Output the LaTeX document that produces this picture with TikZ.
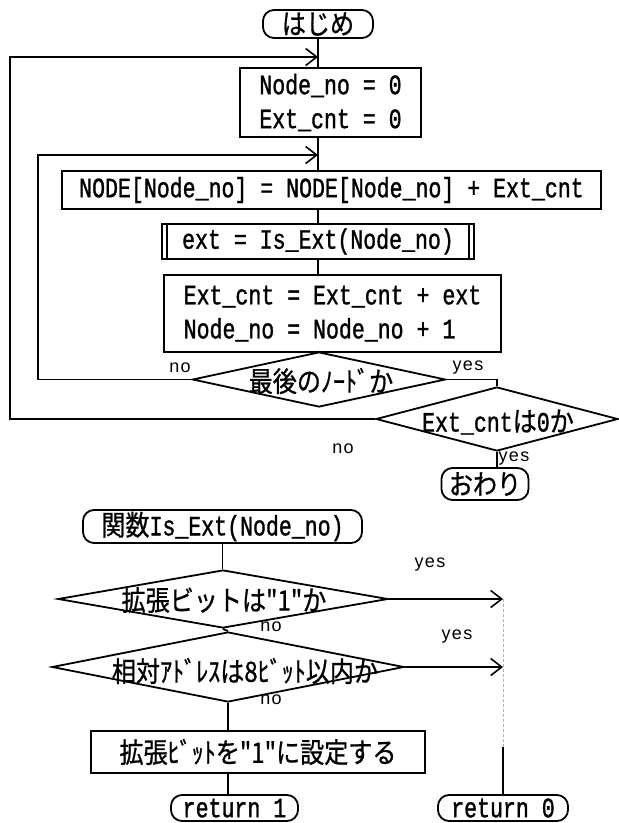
\documentclass[tikz,border=0pt]{standalone}
\usepackage{fontspec}
\usetikzlibrary{shapes.geometric,arrows.meta}
\newfontfamily\mono[FakeStretch=0.77,FakeBold=1.2]{Liberation Mono}
\newfontfamily\jp[FakeStretch=0.86,FakeBold=0.8]{Noto Sans CJK JP}
\newfontfamily\labfont[LetterSpace=8]{Liberation Sans}
\begin{document}
\begin{tikzpicture}[x=1pt,y=-1pt,line width=1.8pt,
  every node/.style={inner sep=0pt,font=\mono\fontsize{28}{34}\selectfont},
  term/.style={draw,rounded corners=11pt},
  procbox/.style={draw,rectangle},
  decide/.style={draw,diamond},
  arr/.style={-{Straight Barb[length=11pt,width=17pt,line width=1.6pt]}},
  lab/.style={font=\labfont\fontsize{18}{20}\selectfont},
  faint/.style={line width=0.8pt,gray!60,dash pattern=on 3pt off 2pt}]
\useasboundingbox (0,0) rectangle (619,823);

% main flow
\node[term,minimum width=110,minimum height=28] (start) at (318,24) {\jp はじめ};
\node[procbox,minimum width=181,minimum height=69,align=left] (box1) at (330.5,102.5)
  {Node\_no = 0\\Ext\_cnt = 0};
\node[procbox,minimum width=539,minimum height=38] (box2) at (331.5,190)
  {NODE[Node\_no] = NODE[Node\_no] + Ext\_cnt};
\node[procbox,minimum width=312,minimum height=35] (box3) at (318,241.5)
  {ext = Is\_Ext(Node\_no)};
\draw ([xshift=6pt]box3.north west) -- ([xshift=6pt]box3.south west);
\draw ([xshift=-6pt]box3.north east) -- ([xshift=-6pt]box3.south east);
\node[procbox,minimum width=337,minimum height=77,align=left] (box4) at (332.5,313.5)
  {Ext\_cnt = Ext\_cnt + ext\\Node\_no = Node\_no + 1};
\node[decide,minimum width=253,minimum height=55] (d1) at (319,379.5) {};
\node (d1t) at (321,381) {\jp 最後のﾉｰﾄﾞか};
\node[decide,minimum width=242,minimum height=64] (d2) at (497,419) {};
\node (d2t) at (498,422) {Ext\_cnt{\jp は}0{\jp か}};
\node[term,minimum width=87,minimum height=32] (fin) at (485,484) {\jp おわり};

\draw (start.south) -- (start.south |- box1.north);
\draw (box1.south -| start) -- (box2.north -| start);
\draw (box2.south -| start) -- (box3.north -| start);
\draw (box3.south -| start) -- (box4.north -| start);
\draw (box4.south -| start) -- (d1.north);

\coordinate (L2) at (38,155);
\coordinate (L1) at (10,57);
\draw[arr] (d1.west) -| (L2) -- (L2 -| start);
\draw (d1.east) -| (d2.north);
\draw[arr] (d2.west) -| (L1) -- (L1 -| start);
\draw (d2.south) -- (d2.south |- fin.north);

\node[lab] (n1) at (180,368) {no};
\node[lab] (y1) at (468,368) {yes};
\node[lab] (n2) at (343,449) {no};
\node[lab] (y2) at (514,459) {yes};

% function
\node[term,minimum width=279,minimum height=33] (func) at (222.5,526.5)
  {{\jp 関数}Is\_Ext(Node\_no)};
\node[decide,minimum width=330,minimum height=58] (d3) at (223,599) {};
\node (d3t) at (224,600) {\jp 拡張ビットは"1"か};
\node[decide,minimum width=352,minimum height=70] (d4) at (228,667) {};
\node (d4t) at (245,671) {\jp 相対ｱﾄﾞﾚｽは8ﾋﾞｯﾄ以内か};
\node[procbox,minimum width=334,minimum height=42] (box5) at (258,752)
  {\jp 拡張ﾋﾞｯﾄを"1"に設定する};
\node[term,minimum width=127,minimum height=26] (ret1) at (234.5,808) {return 1};
\node[term,minimum width=130,minimum height=26] (ret0) at (503,808) {return 0};

\draw (func.south) -- (func.south |- d3.north);
\draw (d3.south) -- (d4.north);
\draw (d4.south) -- (d4.south |- box5.north);
\draw (d4.south |- box5.south) -- (d4.south |- ret1.north);
\draw[arr] (d3.east) -- (d3.east -| ret0.north);
\draw[arr] (d4.east) -- (d4.east -| ret0.north);
\coordinate (J) at (503,747);
\draw[faint] (d3.east -| ret0.north) -- (J);
\draw (J) -- (ret0.north);

\node[lab] (y3) at (430,565) {yes};
\node[lab] (n3) at (271,627) {no};
\node[lab] (y4) at (457,637) {yes};
\node[lab] (n4) at (271,700) {no};
\end{tikzpicture}
\end{document}
